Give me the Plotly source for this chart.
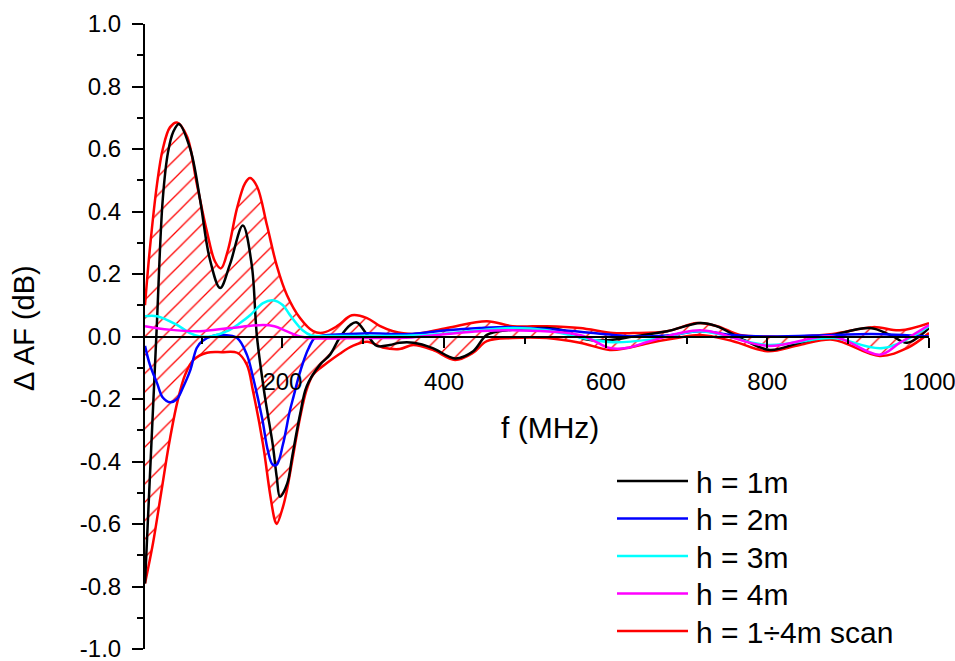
import plotly.graph_objects as go

# Frequency (MHz) / antenna-factor deviation (dB) for each height
f_h1 = [30, 44, 52, 58.5, 65, 72, 86, 98, 110, 123, 135, 151, 162, 168.5, 178.5, 188, 193, 197,
        206, 212, 221.8, 230, 246.5, 259, 271, 284, 292, 305, 317, 333, 345, 362, 386, 413.6, 436,
        453, 478, 527, 547, 577, 602, 634, 676, 717, 737, 770, 803, 840, 881, 927, 952, 973, 1000]
v_h1 = [-0.79, 0.0, 0.44, 0.59, 0.655, 0.68, 0.60, 0.44, 0.25, 0.155, 0.23, 0.355, 0.23, 0.0,
        -0.195, -0.345, -0.45, -0.513, -0.47, -0.386, -0.25, -0.16, -0.09, -0.058, -0.003, 0.037,
        0.045, 0.005, -0.03, -0.027, -0.02, -0.02, -0.037, -0.07, -0.047, 0.005, 0.02, 0.027, 0.02,
        -0.01, -0.012, 0.0, 0.017, 0.043, 0.033, -0.01, -0.043, -0.02, 0.005, 0.027, 0.005, -0.02, 0.027]

f_h2 = [30, 36, 45, 52, 61, 69.6, 77, 85.7, 94, 100.5, 114, 126.5, 144, 156, 163.6, 174.8, 182, 188,
        193, 200.7, 209, 214, 220, 226, 232, 240, 250, 300, 360, 403.7, 444, 485, 547, 609, 634, 676,
        717, 757, 800, 881, 930, 1000]
v_h2 = [-0.03, -0.09, -0.15, -0.195, -0.21, -0.20, -0.163, -0.11, -0.037, -0.015, 0.002, 0.005,
        -0.005, -0.058, -0.13, -0.26, -0.365, -0.41, -0.41, -0.345, -0.24, -0.19, -0.13, -0.08,
        -0.04, -0.005, 0.003, 0.01, 0.008, 0.02, 0.027, 0.03, 0.02, 0.005, 0.0, 0.003, 0.017, 0.005,
        0.0, 0.005, 0.008, 0.0]

f_h3 = [30, 45, 69.6, 85.7, 98, 114, 131.5, 147.5, 160, 176, 188, 200.7, 209, 225, 236, 250, 300,
        360, 403.7, 444, 485, 527, 568, 609, 655, 717, 800, 881, 943, 1000]
v_h3 = [0.065, 0.065, 0.037, 0.011, 0.0, 0.002, 0.017, 0.043, 0.068, 0.107, 0.116, 0.1, 0.07, 0.02,
        0.003, 0.002, 0.002, 0.003, 0.01, 0.02, 0.027, 0.02, -0.003, -0.018, -0.01, 0.017, -0.027,
        -0.005, -0.037, 0.033]

f_h4 = [30, 60, 98, 135, 176, 190, 205, 222, 240, 300, 360, 403.7, 444, 485, 568, 605, 626, 655,
        717, 800, 881, 939, 964, 1000]
v_h4 = [0.033, 0.022, 0.017, 0.027, 0.037, 0.033, 0.017, 0.0, -0.006, -0.005, -0.003, 0.008, 0.017,
        0.02, 0.005, -0.037, -0.037, -0.015, 0.02, -0.03, 0.0, -0.058, -0.02, 0.037]

# 1-4 m height scan: upper and lower envelopes
f_scan_hi = [30, 36, 45, 52, 61, 69.6, 82, 94, 106.7, 116.6, 124, 133, 143.8, 153.7, 160, 168.6,
             181, 193, 205.7, 221.8, 238, 250, 267.6, 286, 304.7, 321, 337, 361.6, 403.7, 453, 485,
             527, 568, 609, 634, 676, 713, 738, 766, 800, 840, 881, 931, 964, 1000]
v_scan_hi = [0.10, 0.28, 0.49, 0.60, 0.67, 0.685, 0.64, 0.49, 0.335, 0.24, 0.218, 0.28, 0.41, 0.49,
             0.507, 0.48, 0.355, 0.227, 0.132, 0.059, 0.017, 0.012, 0.033, 0.068, 0.059, 0.033,
             0.017, 0.008, 0.027, 0.049, 0.033, 0.033, 0.027, 0.011, 0.011, 0.017, 0.043, 0.033,
             0.005, 0.0, 0.0, 0.008, 0.03, 0.02, 0.043]

f_scan_lo = [30, 40, 50, 60, 70, 80, 90, 106.7, 125, 144, 156, 163.6, 176, 184.7, 190.8, 193,
             200.7, 205.7, 212, 221.8, 230, 238, 255, 271, 287, 305, 324, 345, 362, 386, 413.6, 436,
             453, 485, 527, 568, 605, 626, 655, 688, 717, 757.5, 800, 840, 881, 939, 973, 1000]
v_scan_lo = [-0.79, -0.66, -0.50, -0.34, -0.21, -0.12, -0.075, -0.052, -0.05, -0.052, -0.09,
             -0.174, -0.345, -0.503, -0.59, -0.60, -0.545, -0.49, -0.40, -0.26, -0.17, -0.122,
             -0.085, -0.055, -0.03, -0.017, -0.035, -0.04, -0.027, -0.043, -0.075, -0.052, -0.015,
             -0.005, -0.005, -0.02, -0.043, -0.037, -0.02, -0.005, 0.005, -0.015, -0.047, -0.027,
             -0.01, -0.062, -0.037, 0.011]

x_tickvals = [200, 400, 600, 800, 1000]
x_ticktext = ["200", "400", "600", "800", "1000"]
y_tickvals = [-1.0, -0.8, -0.6, -0.4, -0.2, 0.0, 0.2, 0.4, 0.6, 0.8, 1.0]
y_ticktext = ["-1.0", "-0.8", "-0.6", "-0.4", "-0.2", "0.0", "0.2", "0.4", "0.6", "0.8", "1.0"]

legend_names = ["h = 1m", "h = 2m", "h = 3m", "h = 4m", "h = 1÷4m scan"]
legend_colors = ["#000000", "#0000ff", "#00ffff", "#ff00ff", "#ff0000"]

FONT = "Liberation Sans, Arial, sans-serif"
LW = 2.5
W, H = 955, 661
ML, MR, MT, MB = 145, 26, 24, 12
PW, PH = W - ML - MR, H - MT - MB


def px_x(px):
    return (px - ML) / PW


def px_y(py):
    return (H - MB - py) / PH


fig = go.Figure()

# scan envelope: lower edge first, upper edge filled down to it with hatching
fig.add_trace(go.Scatter(
    x=f_scan_lo, y=v_scan_lo, mode="lines", name=legend_names[4],
    line=dict(color="#ff0000", width=LW, shape="spline")))
fig.add_trace(go.Scatter(
    x=f_scan_hi, y=v_scan_hi, mode="lines", name=legend_names[4],
    line=dict(color="#ff0000", width=LW, shape="spline"),
    fill="tonexty", fillcolor="rgba(255,255,255,0)",
    fillpattern=dict(shape="/", fgcolor="#ff0000", fgopacity=1,
                     bgcolor="rgba(255,255,255,0)", size=13, solidity=0.1)))

for fx, fy, name, color in zip([f_h1, f_h2, f_h3, f_h4], [v_h1, v_h2, v_h3, v_h4],
                               legend_names[:4], legend_colors[:4]):
    fig.add_trace(go.Scatter(x=fx, y=fy, mode="lines", name=name,
                             line=dict(color=color, width=LW, shape="spline")))

# legend: line samples and labels
shapes, annotations = [], []
for i, (name, color) in enumerate(zip(legend_names, legend_colors)):
    yc = px_y(481 + 37.5 * i)
    shapes.append(dict(type="line", xref="paper", yref="paper",
                       x0=px_x(617), x1=px_x(688), y0=yc, y1=yc,
                       line=dict(color=color, width=LW)))
    annotations.append(dict(text=name, xref="paper", yref="paper", x=px_x(694), y=yc,
                            xanchor="left", yanchor="middle", showarrow=False, yshift=-1,
                            font=dict(family=FONT, size=30, color="black")))

annotations += [
    dict(text="f (MHz)", xref="paper", yref="paper", x=px_x(550), y=px_y(427),
         xanchor="center", yanchor="middle", showarrow=False,
         font=dict(family=FONT, size=30, color="black")),
    dict(text="Δ AF (dB)", xref="paper", yref="paper", x=px_x(24), y=px_y(328),
         xanchor="center", yanchor="middle", showarrow=False, textangle=-90,
         font=dict(family=FONT, size=29, color="black")),
]

fig.update_layout(
    width=W, height=H,
    margin=dict(l=ML, r=MR, t=MT, b=MB, autoexpand=False),
    paper_bgcolor="white", plot_bgcolor="white",
    font=dict(family=FONT, color="black", size=24),
    showlegend=False,
    shapes=shapes, annotations=annotations,
    xaxis=dict(range=[30, 1000], anchor="free", position=0.5, automargin=False,
               showline=True, linecolor="black", linewidth=2,
               showgrid=False, zeroline=False,
               tickmode="array", tickvals=x_tickvals, ticktext=x_ticktext,
               ticks="outside", ticklen=10, tickwidth=2, tickcolor="black",
               ticklabelstandoff=14, ticklabeloverflow="allow",
               tickfont=dict(family=FONT, size=24, color="black"),
               minor=dict(tickmode="linear", tick0=0, dtick=100, ticks="outside",
                          ticklen=6, tickwidth=2, tickcolor="black")),
    yaxis=dict(range=[-1.0, 1.0], automargin=False,
               showline=True, linecolor="black", linewidth=2,
               showgrid=False, zeroline=False,
               tickmode="array", tickvals=y_tickvals, ticktext=y_ticktext,
               ticks="outside", ticklen=11, tickwidth=2, tickcolor="black",
               ticklabelstandoff=6, ticklabeloverflow="allow",
               tickfont=dict(family=FONT, size=24, color="black"),
               minor=dict(tickmode="linear", tick0=-1, dtick=0.1, ticks="outside",
                          ticklen=6, tickwidth=2, tickcolor="black")),
)

fig.write_html("out.html")
